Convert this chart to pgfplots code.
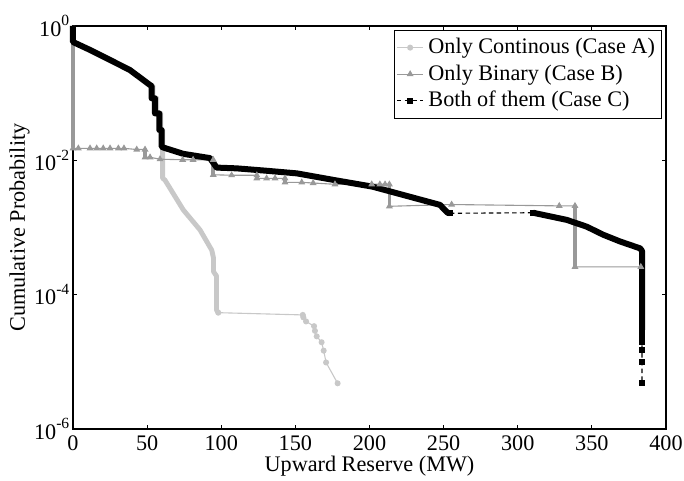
\documentclass[border=0pt]{standalone}
\usepackage{fontspec}
\setmainfont{Liberation Serif}
\usepackage{pgfplots}
\pgfplotsset{compat=1.18}
\definecolor{cA}{RGB}{200,200,200}
\definecolor{cB}{RGB}{153,153,153}
\newcommand{\tp}[1]{10\raisebox{4.6pt}{\fontsize{7pt}{7pt}\selectfont #1}}
\begin{document}
\begin{tikzpicture}
\begin{axis}[
  name=ax,
  scale only axis, width=266.9pt, height=181.4pt,
  ymode=log, xmin=0, xmax=400, ymin=1e-6, ymax=1,
  xtick={0,50,...,400},
  ytick={1e-6,1e-4,1e-2,1},
  yticklabels={{\tp{-6}},{\tp{-4}},{\tp{-2}},{\tp{0}}},
  yminorticks=false,
  tick align=inside, major tick length=1.8pt,
  axis line style={line width=0.6pt},
  every tick/.style={black, line width=0.5pt},
  /pgf/number format/assume math mode=true,
  xlabel={Upward Reserve (MW)},
  ylabel={Cumulative Probability},
  xlabel style={at={(axis description cs:0.5,-0.093)}, anchor=center, inner sep=0pt},
  ylabel style={at={(axis description cs:-0.0899,0.5)}, anchor=center, inner sep=0pt},
  xticklabel style={inner ysep=0pt, yshift=-2.6pt},
  yticklabel style={inner xsep=1.5pt},
  clip=false,
  legend cell align=left,
  legend image code/.code={\draw[mark repeat=2,mark phase=2,#1] plot coordinates {(0cm,0cm) (0.21cm,0cm) (0.42cm,0cm)};},
  legend style={at={(rel axis cs:0.9933,0.99)}, anchor=north east, draw=black, inner xsep=1pt, inner ysep=1.5pt, row sep=-0.5pt},
]
% Case A thick (dense)
\addplot[cA, line width=2.2pt, line join=round, forget plot] coordinates {
(0,1) (0,0.578) (11.5,0.44) (25,0.312) (38.4,0.221) (52,0.132) (54,0.128) (54,0.084) (56.5,0.084) (56.5,0.05) (59.2,0.05) (59.2,0.028) (60.5,0.028) (60.5,0.0054) (62,0.0051) (74.4,0.00183) (85.7,9.2e-4) (93.6,4.6e-4) (94.8,3.5e-4) (94.8,2.2e-4) (96.8,1.9e-4) (96.8,5.9e-5) (98,5.4e-5)
};
% Case A sparse (legend)
\addplot[cA, line width=0.5pt, mark=*, mark size=1.1pt, mark options={solid}] coordinates {
(98,5.4e-5) (155,5.0e-5) (155.4,4.6e-5) (157.2,4.0e-5) (162.6,3.4e-5) (163.2,2.9e-5) (164.4,2.4e-5) (167.7,1.96e-5) (169.1,1.47e-5) (170.7,9.8e-6) (178.5,4.8e-6)
};
\addlegendentry{Only Continous (Case A)}
% Case B thick segments
\addplot[cB, line width=1.6pt, forget plot] coordinates {(0,1) (0,0.016)};
\addplot[cB, line width=1.6pt, forget plot] coordinates {(48.6,0.0147) (48.6,0.0111)};
\addplot[cB, line width=1.6pt, forget plot] coordinates {(94.6,0.0102) (94.6,0.0061)};
\addplot[cB, line width=1.6pt, forget plot] coordinates {(124,0.0060) (124,0.0054)};
\addplot[cB, line width=1.6pt, forget plot] coordinates {(143,0.0054) (143,0.0047)};
\addplot[cB, line width=1.6pt, forget plot] coordinates {(213.4,0.0044) (213.4,0.00207)};
\addplot[cB, line width=1.6pt, forget plot] coordinates {(338.6,0.0021) (338.6,2.6e-4)};
% Case B (legend)
\addplot[cB, line width=0.5pt, mark=triangle*, mark size=1.3pt, mark options={solid}] coordinates {
(0,0.0151) (3.6,0.0151) (11.5,0.0151) (16,0.0151) (20.4,0.0151) (25,0.0151) (30.6,0.0151) (34.4,0.0151) (43,0.0145) (48.6,0.0145) (48.6,0.0111) (52,0.0111) (58.7,0.0104) (74,0.0102) (81,0.0102) (94.6,0.0102) (94.6,0.0061) (107,0.0060) (124,0.0060) (124,0.0054) (130.6,0.0054) (136.3,0.0054) (143,0.0054) (143,0.0047) (154.3,0.0047) (162,0.0046) (176.7,0.0044) (201.5,0.0044) (207,0.0044) (210.5,0.0044) (213.4,0.0044) (213.4,0.00207) (255.4,0.0022) (328,0.0021) (338.6,0.0021) (338.6,2.6e-4) (383,2.6e-4)
};
\addlegendentry{Only Binary (Case B)}
% Case C thick (dense)
\addplot[black, line width=2.7pt, line join=round, forget plot] coordinates {
(0,1) (0,0.578) (11.5,0.44) (25,0.312) (38.4,0.221) (52,0.132) (53,0.128) (53,0.084) (55.3,0.084) (55.3,0.05) (58.2,0.05) (58.2,0.0283) (59.8,0.0283) (59.8,0.016) (61,0.0155) (74.4,0.0125) (92.4,0.0108) (96.9,0.0078) (110.4,0.0076) (130.6,0.0070) (151,0.0064) (176,0.0051) (202,0.00406) (225,0.00296) (247.6,0.00217) (250,0.0019) (252.5,0.00167) (254.3,0.00163)
};
\addplot[black, line width=2.7pt, line join=round, forget plot] coordinates {
(310.3,0.00166) (333,0.0013) (346.5,0.00103) (357.7,7.8e-4) (369,6.2e-4) (382.5,4.9e-4) (383.8,4.5e-4) (383.8,3e-5)
};
% Case C sparse (legend)
\addplot[black, line width=0.5pt, dash pattern=on 2pt off 1.5pt, mark=square*, mark size=1.1pt, mark options={solid}, unbounded coords=jump] coordinates {
(254.3,0.00163) (310.3,0.00166) (383.8,nan) (383.8,3e-5) (383.8,2.4e-5) (383.8,2.0e-5) (383.8,1.5e-5) (383.8,1.0e-5) (383.8,4.8e-6)
};
\addlegendentry{Both of them (Case C)}
\end{axis}
\pgfresetboundingbox
\path[use as bounding box] ([shift={(-32.85pt,-22.95pt)}]ax.south west) rectangle ([shift={(8.1pt,11.7pt)}]ax.north east);
\end{tikzpicture}
\end{document}
